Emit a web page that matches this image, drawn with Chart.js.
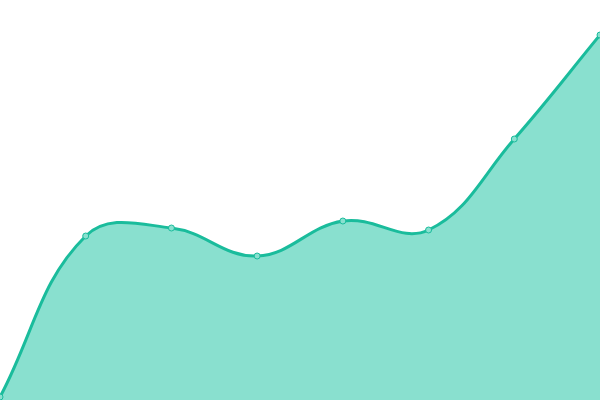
<!DOCTYPE html>
<html>
<head>
<meta charset="utf-8">
<script src="https://cdn.jsdelivr.net/npm/chart.js@4"></script>
<style>
  html, body { margin: 0; padding: 0; background: #fff; }
  #chart_root { display: block; }
</style>
</head>
<body>
<canvas id="chart_root" width="600" height="400"></canvas>
<script>
const labels = ['1', '2', '3', '4', '5', '6', '7', '8'];
const values = [3, 164, 172, 144, 179, 170, 261, 365];

const chartRootElt = document.getElementById('chart_root');

new Chart(chartRootElt, {
  type: 'line',
  data: {
    labels: labels,
    datasets: [
      {
        data: values,
        fill: 'origin',
        backgroundColor: '#89e0cf',
        borderColor: '#1abc9c',
        borderWidth: 3,
        tension: 0.4,
        pointRadius: 3,
        pointBorderWidth: 1,
        pointBackgroundColor: '#89e0cf',
        pointBorderColor: '#1abc9c'
      }
    ]
  },
  options: {
    responsive: false,
    animation: false,
    layout: { padding: 0, autoPadding: false },
    plugins: {
      legend: { display: false },
      tooltip: { enabled: false }
    },
    scales: {
      x: { display: false, offset: false },
      y: { display: false, min: 0, max: 400 }
    }
  }
});
</script>
</body>
</html>
